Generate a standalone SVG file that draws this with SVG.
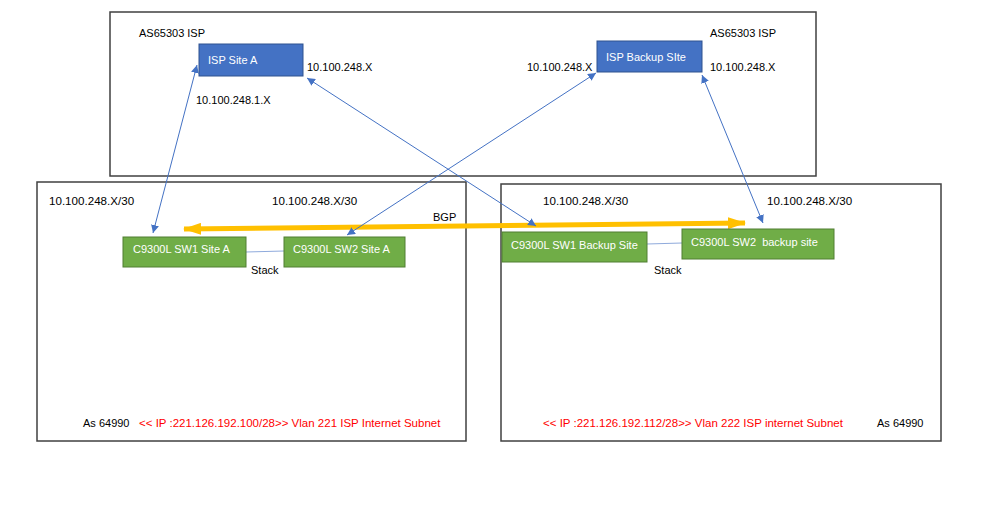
<svg xmlns="http://www.w3.org/2000/svg" width="999" height="508" viewBox="0 0 999 508">
<style>
text{font-family:"Liberation Sans",Arial,sans-serif;font-size:11px;fill:#000}
.b{font-size:11.6px}
.w{fill:#fff}
.r{fill:#ff0000;font-size:11.5px}
.frame{fill:none;stroke:#404040;stroke-width:1.5}
.isp{fill:#4472c4;stroke:#2f528f;stroke-width:1}
.sw{fill:#70ad47;stroke:#507e32;stroke-width:1}
.link{stroke:#4472c4;stroke-width:1;fill:none}
.stk{stroke:#8faadc;stroke-width:1;fill:none}
.bgp{stroke:#ffc000;stroke-width:5;fill:none}
</style>
<defs>
<marker id="ab" viewBox="0 0 10 10" refX="10" refY="5" markerWidth="8" markerHeight="8" markerUnits="userSpaceOnUse" orient="auto-start-reverse">
<path d="M0,0 L10,5 L0,10 z" fill="#4472c4"/>
</marker>
<marker id="ob" viewBox="0 0 18 12" refX="17" refY="6" markerWidth="18" markerHeight="12" markerUnits="userSpaceOnUse" orient="auto-start-reverse">
<path d="M0,0 L18,6 L0,12 z" fill="#ffc000"/>
</marker>
</defs>
<rect width="999" height="508" fill="#fff"/>
<g id="isp-area">
<rect class="frame" x="110" y="12" width="706" height="164"/>
<text x="139" y="37">AS65303 ISP</text>
<text x="710" y="37">AS65303 ISP</text>
</g>
<g id="site-a-area">
<rect class="frame" x="37" y="182" width="429" height="259"/>
<text class="b" x="49" y="205">10.100.248.X/30</text>
<text class="b" x="272" y="205">10.100.248.X/30</text>
<text x="83" y="427">As 64990</text>
<text class="r" x="139" y="427">&lt;&lt; IP :221.126.192.100/28&gt;&gt; Vlan 221 ISP Internet Subnet</text>
</g>
<g id="backup-area">
<rect class="frame" x="501" y="184" width="440" height="257"/>
<text class="b" x="543" y="205">10.100.248.X/30</text>
<text class="b" x="767" y="205">10.100.248.X/30</text>
<text class="r" x="543" y="427">&lt;&lt; IP :221.126.192.112/28&gt;&gt; Vlan 222 ISP internet Subnet</text>
<text x="877" y="427">As 64990</text>
</g>
<g id="connectors">
<line class="stk" x1="246" y1="252" x2="284" y2="251"/>
<line class="stk" x1="647" y1="244" x2="682" y2="243"/>
<line class="bgp" x1="184" y1="229" x2="745" y2="223" marker-start="url(#ob)" marker-end="url(#ob)"/>
<line class="link" x1="197" y1="65" x2="153" y2="233" marker-start="url(#ab)" marker-end="url(#ab)"/>
<line class="link" x1="307" y1="78" x2="536" y2="226" marker-start="url(#ab)" marker-end="url(#ab)"/>
<line class="link" x1="596" y1="73" x2="347" y2="235" marker-start="url(#ab)" marker-end="url(#ab)"/>
<line class="link" x1="702" y1="75" x2="763" y2="223" marker-start="url(#ab)" marker-end="url(#ab)"/>
<text x="251" y="274">Stack</text>
<text x="654" y="274">Stack</text>
<text x="433" y="221">BGP</text>
</g>
<g id="isp-site-a">
<rect class="isp" x="199" y="44" width="104" height="32"/>
<text class="w" x="208" y="64">ISP Site A</text>
<text x="307" y="71">10.100.248.X</text>
<text x="196" y="104">10.100.248.1.X</text>
</g>
<g id="isp-backup-site">
<rect class="isp" x="597" y="41" width="105" height="31"/>
<text class="w" x="606" y="61">ISP Backup SIte</text>
<text x="527" y="71">10.100.248.X</text>
<text x="710" y="71">10.100.248.X</text>
</g>
<g id="sw1-site-a">
<rect class="sw" x="123" y="237" width="123" height="30"/>
<text class="w" x="133" y="253">C9300L SW1 Site A</text>
</g>
<g id="sw2-site-a">
<rect class="sw" x="284" y="237" width="121" height="30"/>
<text class="w" x="293" y="253">C9300L SW2 Site A</text>
</g>
<g id="sw1-backup">
<rect class="sw" x="502" y="232" width="145" height="30"/>
<text class="w" x="511" y="249">C9300L SW1 Backup Site</text>
</g>
<g id="sw2-backup">
<rect class="sw" x="682" y="229" width="152" height="30"/>
<text class="w" x="691" y="246" xml:space="preserve">C9300L SW2  backup site</text>
</g>
</svg>
